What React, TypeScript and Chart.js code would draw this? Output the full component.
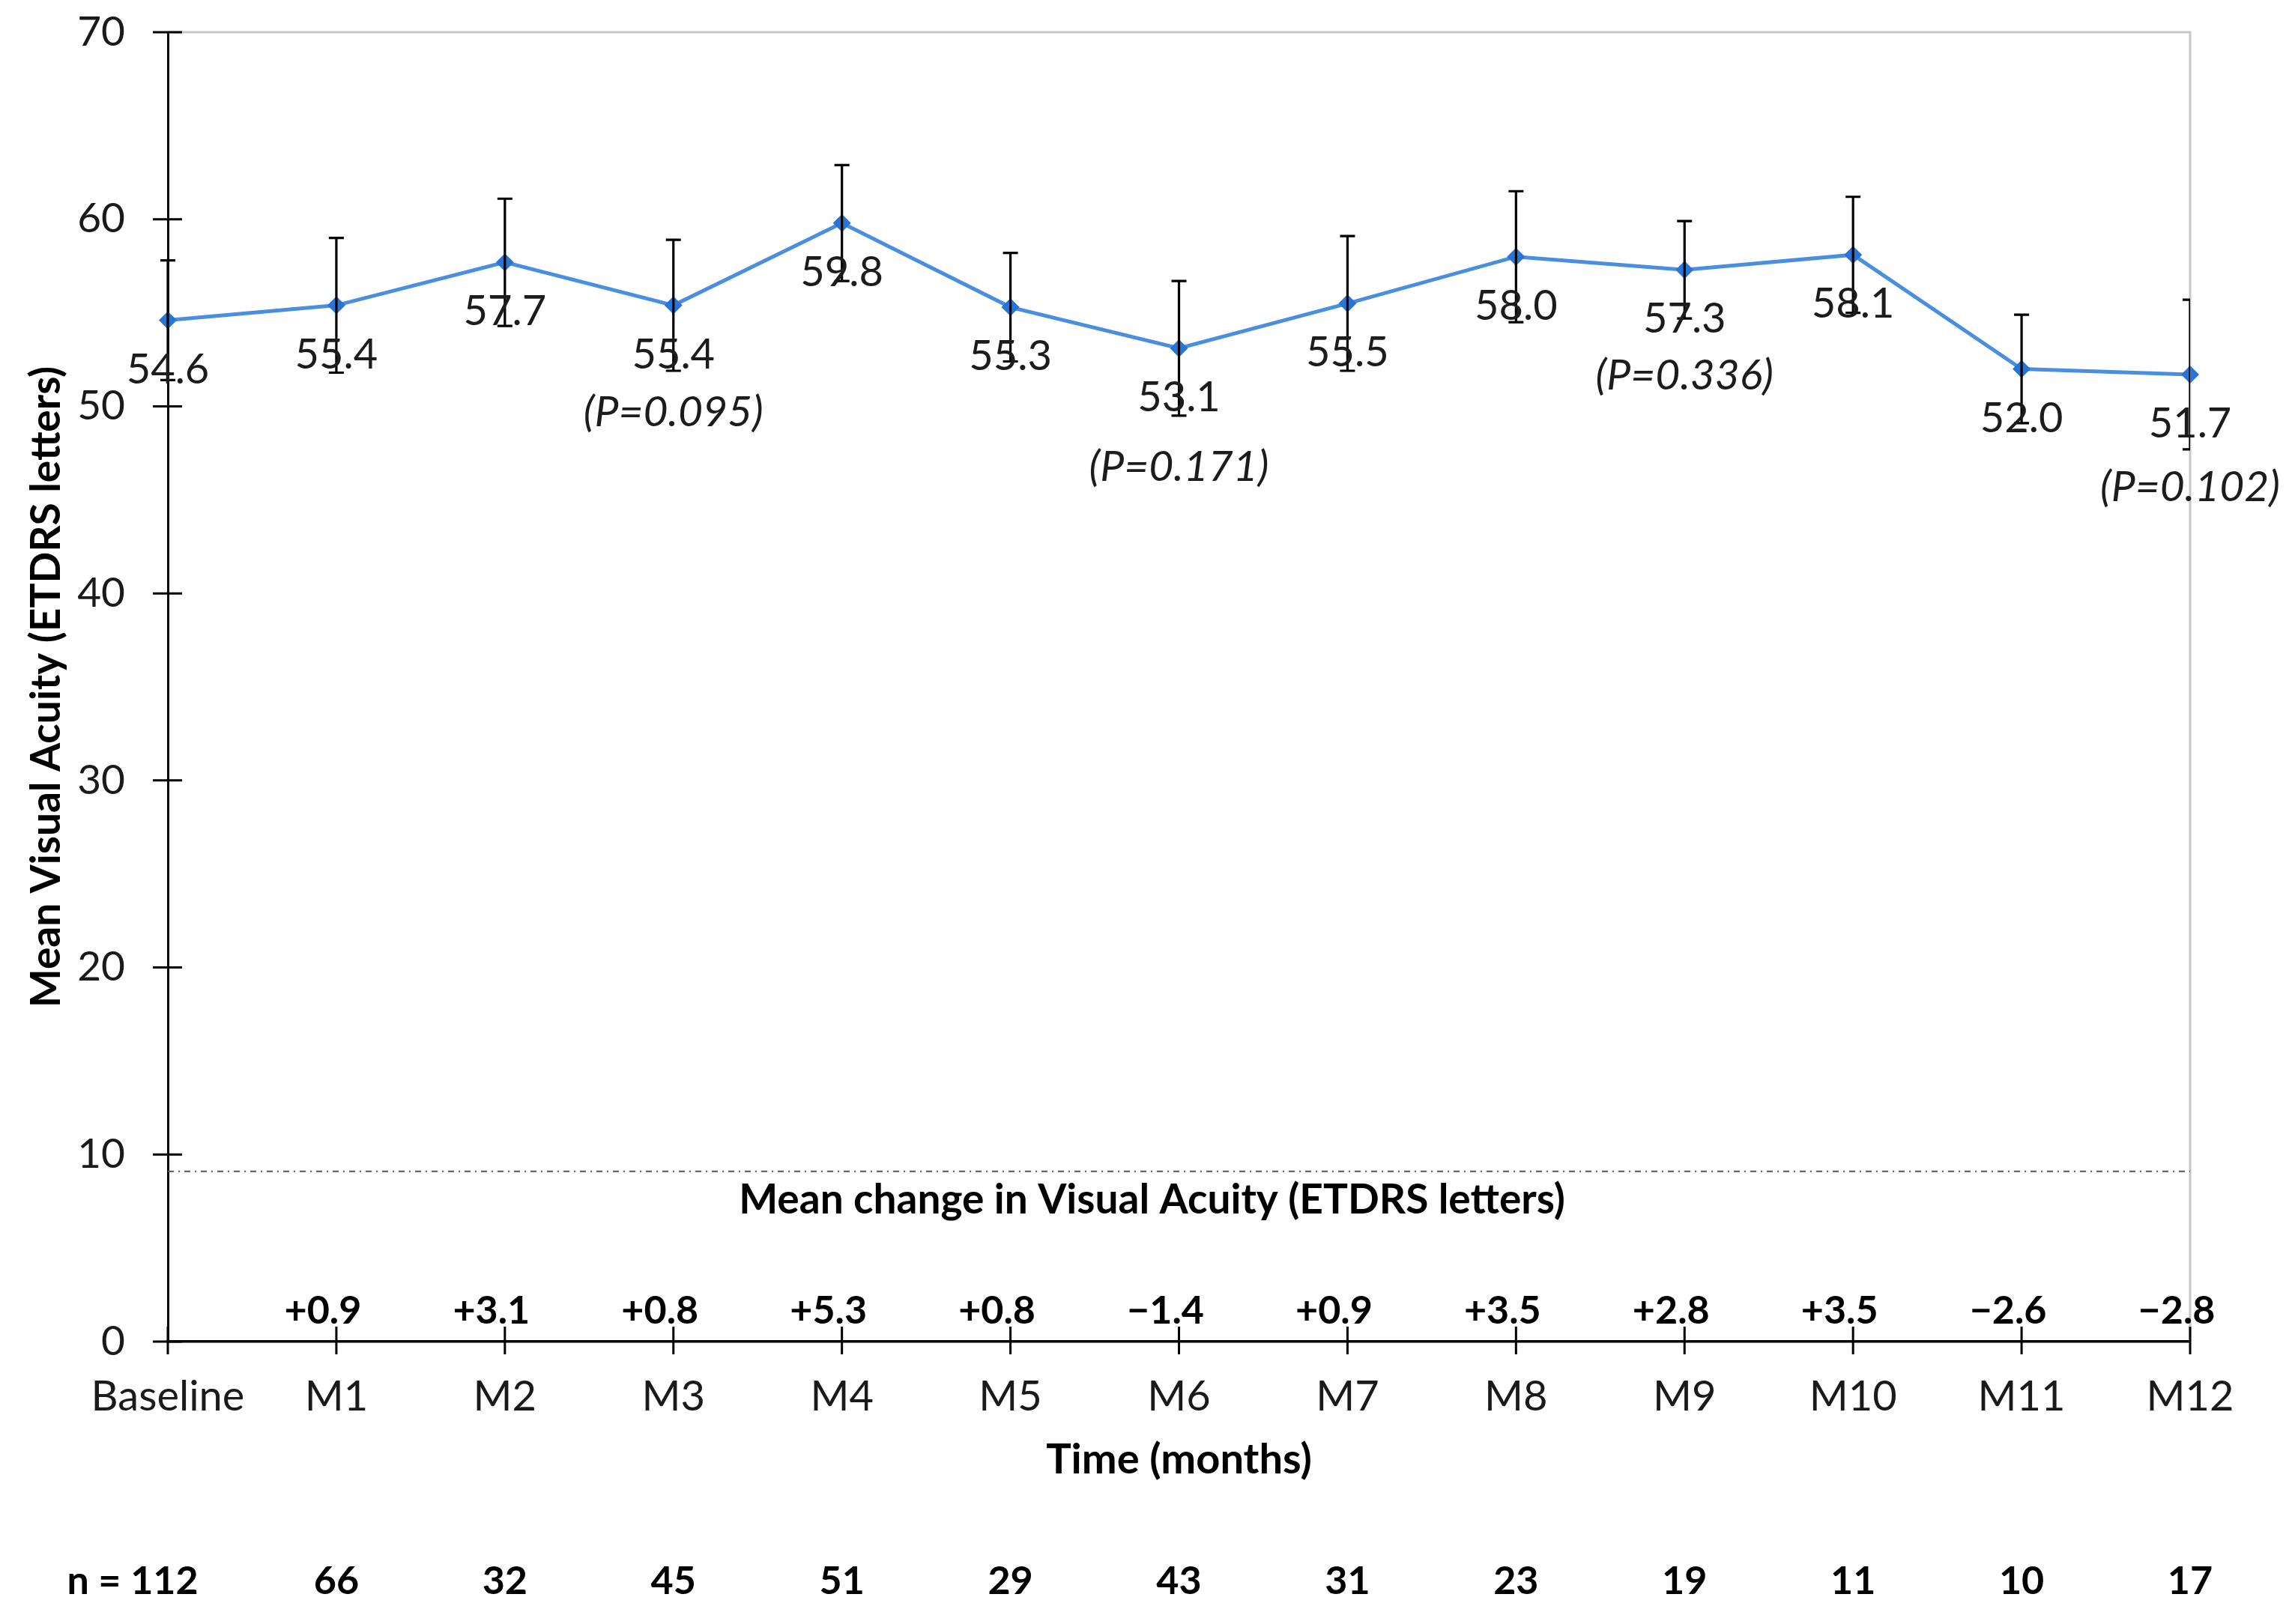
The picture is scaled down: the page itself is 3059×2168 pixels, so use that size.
import React, { useEffect, useRef } from "react";
import { Chart, registerables } from "chart.js";

Chart.register(...registerables);

// ---------- data ----------
const categories = ["Baseline", "M1", "M2", "M3", "M4", "M5", "M6", "M7", "M8", "M9", "M10", "M11", "M12"];
const meanVA = [54.6, 55.4, 57.7, 55.4, 59.8, 55.3, 53.1, 55.5, 58.0, 57.3, 58.1, 52.0, 51.7];
const errorVA = [3.2, 3.6, 3.4, 3.5, 3.1, 2.9, 3.6, 3.6, 3.5, 2.6, 3.1, 2.9, 4.0];
const pValues: (string | null)[] = [null, null, null, "(P=0.095)", null, null, "(P=0.171)", null, null, "(P=0.336)", null, null, "(P=0.102)"];
const meanChange = ["", "+0.9", "+3.1", "+0.8", "+5.3", "+0.8", "\u22121.4", "+0.9", "+3.5", "+2.8", "+3.5", "\u22122.6", "\u22122.8"];
const nCounts = ["n = 112", "66", "32", "45", "51", "29", "43", "31", "23", "19", "11", "10", "17"];
const yTickValues = [0, 10, 20, 30, 40, 50, 60, 70];
const referenceLineValue = 9.1;
const yTitle = "Mean Visual Acuity (ETDRS letters)";
const changeTitle = "Mean change in Visual Acuity (ETDRS letters)";
const xTitle = "Time (months)";

// ---------- style / layout constants ----------
const FONT = "Lato, 'Liberation Sans', 'DejaVu Sans', sans-serif";
const pLabelOffsets = [0, 0, 0, 143, 0, 0, 159, 0, 0, 141, 0, 0, 151];

const overlayPlugin = {
  id: "overlay",
  beforeDatasetsDraw(chart: any) {
    const { ctx, chartArea: a, scales } = chart;
    const y = scales.y;
    ctx.save();
    ctx.strokeStyle = "#c6c6c6";
    ctx.lineWidth = 3;
    ctx.beginPath();
    ctx.moveTo(a.left, a.top);
    ctx.lineTo(a.right, a.top);
    ctx.lineTo(a.right, a.bottom);
    ctx.stroke();
    const ry = y.getPixelForValue(referenceLineValue);
    ctx.strokeStyle = "#555";
    ctx.lineWidth = 2;
    ctx.setLineDash([8, 6, 2, 6]);
    ctx.beginPath();
    ctx.moveTo(a.left, ry);
    ctx.lineTo(a.right, ry);
    ctx.stroke();
    ctx.setLineDash([]);
    ctx.restore();
  },
  afterDatasetsDraw(chart: any) {
    const { ctx, chartArea: a, scales } = chart;
    const x = scales.x;
    const y = scales.y;
    ctx.save();
    ctx.strokeStyle = "#000";
    ctx.lineWidth = 3;
    ctx.beginPath();
    categories.forEach((_, i) => {
      const px = x.getPixelForValue(i);
      ctx.moveTo(px, a.bottom - 20);
      ctx.lineTo(px, a.bottom + 17);
    });
    yTickValues.forEach((v) => {
      const py = y.getPixelForValue(v);
      ctx.moveTo(a.left - 20, py);
      ctx.lineTo(a.left + 19, py);
    });
    ctx.stroke();

    // error bars (clipped at right edge of plot)
    ctx.save();
    ctx.beginPath();
    ctx.rect(0, 0, a.right, chart.height);
    ctx.clip();
    ctx.lineWidth = 3.2;
    ctx.strokeStyle = "#000";
    ctx.beginPath();
    meanVA.forEach((m, i) => {
      const px = x.getPixelForValue(i);
      const top = y.getPixelForValue(m + errorVA[i]);
      const bot = y.getPixelForValue(m - errorVA[i]);
      ctx.moveTo(px, top);
      ctx.lineTo(px, bot);
      ctx.moveTo(px - 10, top);
      ctx.lineTo(px + 10, top);
      ctx.moveTo(px - 10, bot);
      ctx.lineTo(px + 10, bot);
    });
    ctx.stroke();
    ctx.restore();

    ctx.textAlign = "center";
    ctx.textBaseline = "middle";

    ctx.fillStyle = "#1c1c1c";
    ctx.font = `56px ${FONT}`;
    meanVA.forEach((m, i) => {
      const px = x.getPixelForValue(i);
      const py = y.getPixelForValue(m);
      ctx.fillText(m.toFixed(1), px, py + 66);
    });

    ctx.font = `italic 57px ${FONT}`;
    pValues.forEach((p, i) => {
      if (!p) return;
      const px = x.getPixelForValue(i);
      const py = y.getPixelForValue(meanVA[i]);
      ctx.fillText(p, px, py + pLabelOffsets[i]);
    });

    const ry = y.getPixelForValue(referenceLineValue);
    ctx.fillStyle = "#000";
    ctx.font = `bold 55px ${FONT}`;
    ctx.fillText(changeTitle, (a.left + a.right) / 2 - 36, ry + 39);

    ctx.font = `bold 52px ${FONT}`;
    meanChange.forEach((c, i) => {
      if (!c) return;
      const px = x.getPixelForValue(i);
      ctx.fillText(c, px - 18, a.bottom - 41);
    });

    ctx.font = `bold 56px ${FONT}`;
    ctx.fillText(xTitle, (a.left + a.right) / 2, a.bottom + 158);

    ctx.font = `bold 52px ${FONT}`;
    nCounts.forEach((n, i) => {
      const px = i === 0 ? x.getPixelForValue(0) - 47 : x.getPixelForValue(i);
      ctx.fillText(n, px, a.bottom + 320);
    });
    ctx.restore();
  },
};

export default function App() {
  const canvasRef = useRef<HTMLCanvasElement | null>(null);

  useEffect(() => {
    document.body.style.margin = "0";
    const canvas = canvasRef.current;
    if (!canvas) return;
    const chart = new Chart(canvas, {
      type: "line",
      data: {
        labels: categories,
        datasets: [
          {
            data: meanVA,
            borderColor: "#4a8ee0",
            borderWidth: 5,
            pointStyle: "rectRot",
            pointRadius: 12,
            pointBackgroundColor: "#2a74d4",
            pointBorderColor: "#2a74d4",
            pointBorderWidth: 0,
            tension: 0,
            clip: false as any,
          },
        ],
      },
      options: {
        responsive: false,
        animation: false,
        devicePixelRatio: 1,
        layout: { padding: { left: 0, top: 43, right: 136, bottom: 0 } },
        plugins: { legend: { display: false }, tooltip: { enabled: false } },
        scales: {
          x: {
            type: "category",
            offset: false,
            grid: { display: true, drawOnChartArea: false, drawTicks: false },
            border: { display: true, color: "#000", width: 3.5 },
            ticks: {
              font: { family: FONT, size: 56 },
              color: "#1a1a1a",
              padding: 40,
              maxRotation: 0,
              autoSkip: false,
            },
            afterFit: (s: any) => {
              s.height = 377;
              s.paddingLeft = 0;
              s.paddingRight = 0;
            },
          },
          y: {
            min: 0,
            max: 70,
            grid: { display: true, drawOnChartArea: false, drawTicks: false },
            border: { display: true, color: "#000", width: 3 },
            ticks: {
              stepSize: 10,
              font: { family: FONT, size: 55 },
              color: "#1a1a1a",
              padding: 57,
            },
            title: {
              display: true,
              text: yTitle,
              color: "#000",
              font: { family: FONT, size: 55, weight: "bold" },
              padding: { top: 29, bottom: 0 },
            },
            afterFit: (s: any) => {
              s.width = 224;
              s.paddingTop = 0;
              s.paddingBottom = 0;
            },
          },
        },
      },
      plugins: [overlayPlugin],
    });
    return () => chart.destroy();
  }, []);

  return (
    <div style={{ width: 3059, height: 2168, background: "#fff" }}>
      <canvas ref={canvasRef} width={3059} height={2168} style={{ display: "block" }} />
    </div>
  );
}
